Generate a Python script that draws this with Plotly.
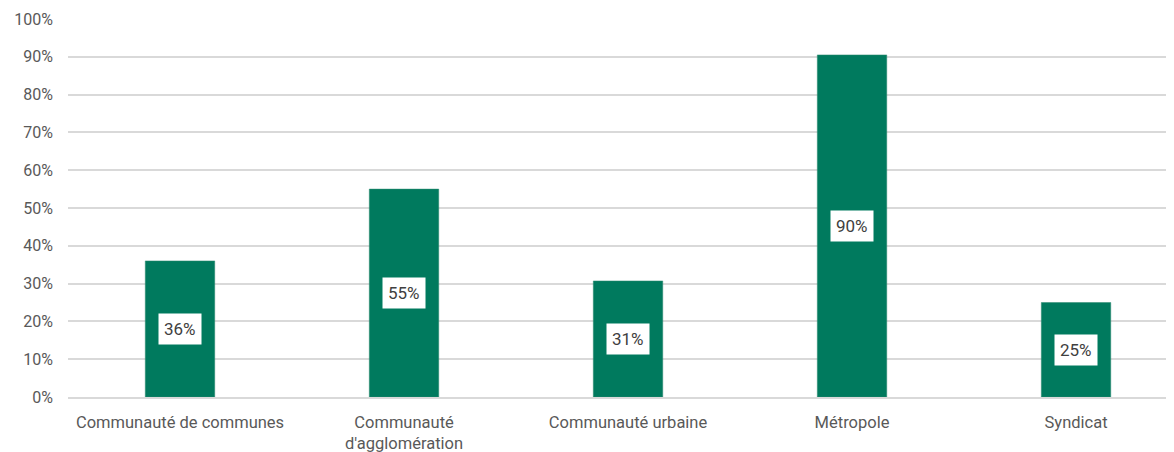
import plotly.graph_objects as go

categories = ["Communauté de communes", "Communauté<br>d'agglomération",
              "Communauté urbaine", "Métropole", "Syndicat"]
values = [0.36, 0.55, 0.307, 0.905, 0.25]
labels = ["36%", "55%", "31%", "90%", "25%"]
y_ticks = [i / 10 for i in range(11)]
y_tick_text = [f"{i * 10}%" for i in range(11)]

fig = go.Figure(
    go.Bar(x=categories, y=values, marker_color="#007A5E",
           marker_line=dict(color="#2E8B70", width=0.5), width=0.31)
)

# white label boxes in the middle of each bar
for cat, v, lab in zip(categories, values, labels):
    fig.add_annotation(x=cat, y=v / 2, text=lab, showarrow=False,
                       bgcolor="white", borderpad=5,
                       font=dict(size=17, color="#404040", family="Roboto"))

# page body has an 8px margin, so the figure is offset by that much
fig.update_layout(
    width=1174, height=452,
    margin=dict(l=60, r=0, t=11, b=63),
    plot_bgcolor="white", paper_bgcolor="white",
    showlegend=False,
    font=dict(family="Roboto", size=16, color="#595959"),
    xaxis=dict(range=[-0.5, 4.473], showgrid=False, ticks="",
               showline=True, linecolor="#D9D9D9", linewidth=1.5,
               automargin=False, ticklabelstandoff=9,
               tickfont=dict(size=16.5, color="#595959")),
    yaxis=dict(range=[0, 1.0], tickvals=y_ticks, ticktext=y_tick_text,
               showgrid=True, gridcolor="#D9D9D9", gridwidth=1.5,
               zeroline=False, ticklabelstandoff=14, automargin=False,
               tickfont=dict(size=16, color="#595959")),
)

fig.write_html("out.html")
